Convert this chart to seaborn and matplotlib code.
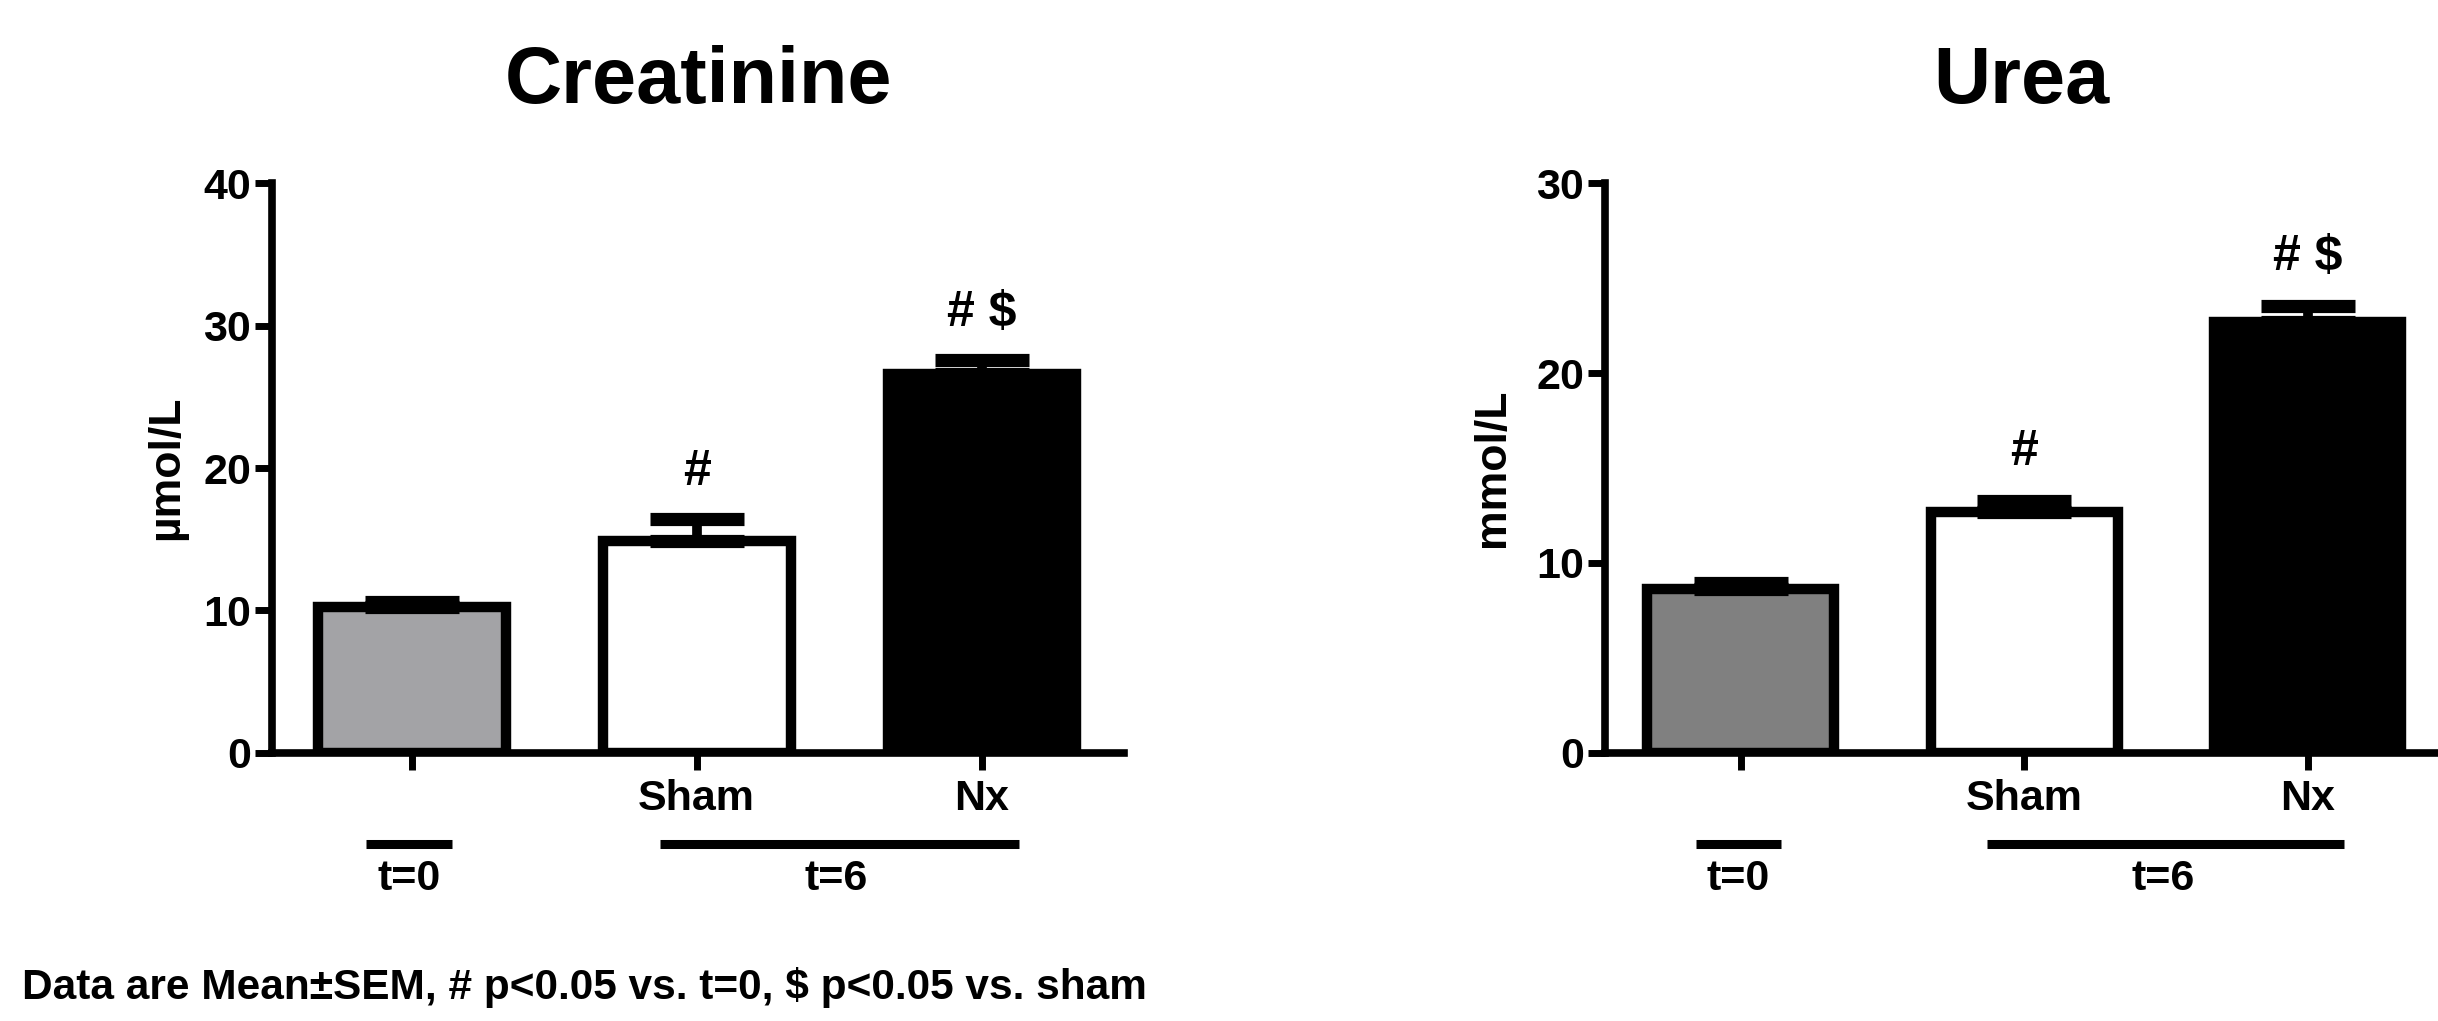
import numpy as np
import pandas as pd
import matplotlib
matplotlib.use("Agg")
import matplotlib.pyplot as plt
import seaborn as sns

# 数据（从图中读取，Mean ± SEM）
groups = ["t=0", "Sham", "Nx"]
tick_labels = ["", "Sham", "Nx"]

creatinine_mean = [10.2, 14.9, 26.6]
creatinine_sem = [0.4, 1.5, 1.0]

urea_mean = [8.6, 12.7, 22.7]
urea_sem = [0.35, 0.55, 0.85]

creat_colors = ["#a2a2a7", "#ffffff", "#000000"]
urea_colors = ["#808080", "#ffffff", "#000000"]

sig_marks = ["", "#", "# $"]
footnote = "Data are Mean±SEM, # p<0.05 vs. t=0, $ p<0.05 vs. sham"

sns.set_theme(style="ticks")
plt.rcParams["font.family"] = ["Liberation Sans", "DejaVu Sans"]
plt.rcParams["font.weight"] = "bold"
plt.rcParams["axes.labelweight"] = "bold"
plt.rcParams["axes.titleweight"] = "bold"
plt.rcParams["text.color"] = "black"
plt.rcParams["axes.labelcolor"] = "black"
plt.rcParams["xtick.color"] = "black"
plt.rcParams["ytick.color"] = "black"

SPINE_LW = 5.5
BAR_LW = 7.5


def draw_panel(ax, means, sems, colors, title, ylabel, ymax, ystep, xlim, label_x, sig_off):
    """画一个 GraphPad 风格的柱状图"""
    df = pd.DataFrame({"group": groups, "value": means})
    sns.barplot(
        data=df,
        x="group",
        y="value",
        hue="group",
        order=groups,
        hue_order=groups,
        palette=colors,
        legend=False,
        width=0.66,
        edgecolor="black",
        linewidth=BAR_LW,
        errorbar=None,
        ax=ax,
    )
    ax.errorbar(
        np.arange(len(groups)),
        means,
        yerr=[np.zeros(len(sems)), sems],
        fmt="none",
        ecolor="black",
        elinewidth=7,
        capsize=34,
        capthick=9.5,
        zorder=5,
    )

    # 显著性标记
    for i, mark in enumerate(sig_marks):
        if mark:
            ax.text(i, means[i] + sems[i] + sig_off, mark, ha="center", va="center",
                    fontsize=36, fontweight="bold")

    ax.set_xlim(*xlim)
    ax.set_ylim(0, ymax)
    ax.set_yticks(np.arange(0, ymax + 0.1, ystep))
    ax.set_xticks(range(len(groups)))
    ax.set_xticklabels(tick_labels)
    ax.set_xlabel("")
    ax.set_ylabel(ylabel, fontsize=32, fontweight="bold")
    ax.yaxis.set_label_coords(label_x, 0.5)
    ax.set_title(title, fontsize=57, fontweight="bold", pad=58)

    sns.despine(ax=ax)
    for side in ["left", "bottom"]:
        ax.spines[side].set_linewidth(SPINE_LW)
        ax.spines[side].set_color("black")
    ax.tick_params(axis="y", length=12, width=5, pad=3, labelsize=31)
    ax.tick_params(axis="x", length=12, width=5, pad=7, labelsize=31)
    for lab in ax.get_xticklabels() + ax.get_yticklabels():
        lab.set_fontweight("bold")

    # 分组线和标签（t=0 / t=6）
    tr = ax.get_xaxis_transform()
    ax.plot([-0.16, 0.14], [-0.161, -0.161], color="black", lw=6.5, transform=tr,
            clip_on=False, solid_capstyle="butt")
    ax.plot([0.87, 2.13], [-0.161, -0.161], color="black", lw=6.5, transform=tr,
            clip_on=False, solid_capstyle="butt")
    ax.text(-0.01, -0.222, "t=0", transform=tr, ha="center", va="center", fontsize=31, fontweight="bold")
    ax.text(1.49, -0.222, "t=6", transform=tr, ha="center", va="center", fontsize=31, fontweight="bold")


fig = plt.figure(figsize=(24.38, 10.21), dpi=100)
ax1 = fig.add_axes([0.1116, 0.2629, 0.3495, 0.5574])
ax2 = fig.add_axes([0.6583, 0.2629, 0.3417, 0.5574])

draw_panel(ax1, creatinine_mean, creatinine_sem, creat_colors, "Creatinine", "µmol/L",
           40, 10, (-0.49, 2.5), -0.10, 3.3)
draw_panel(ax2, urea_mean, urea_sem, urea_colors, "Urea", "mmol/L",
           30, 10, (-0.48, 2.46), -0.11, 2.6)

fig.text(0.009, 0.033, footnote, ha="left", va="center", fontsize=30.5, fontweight="bold")

fig.savefig("out.png", dpi=100)
